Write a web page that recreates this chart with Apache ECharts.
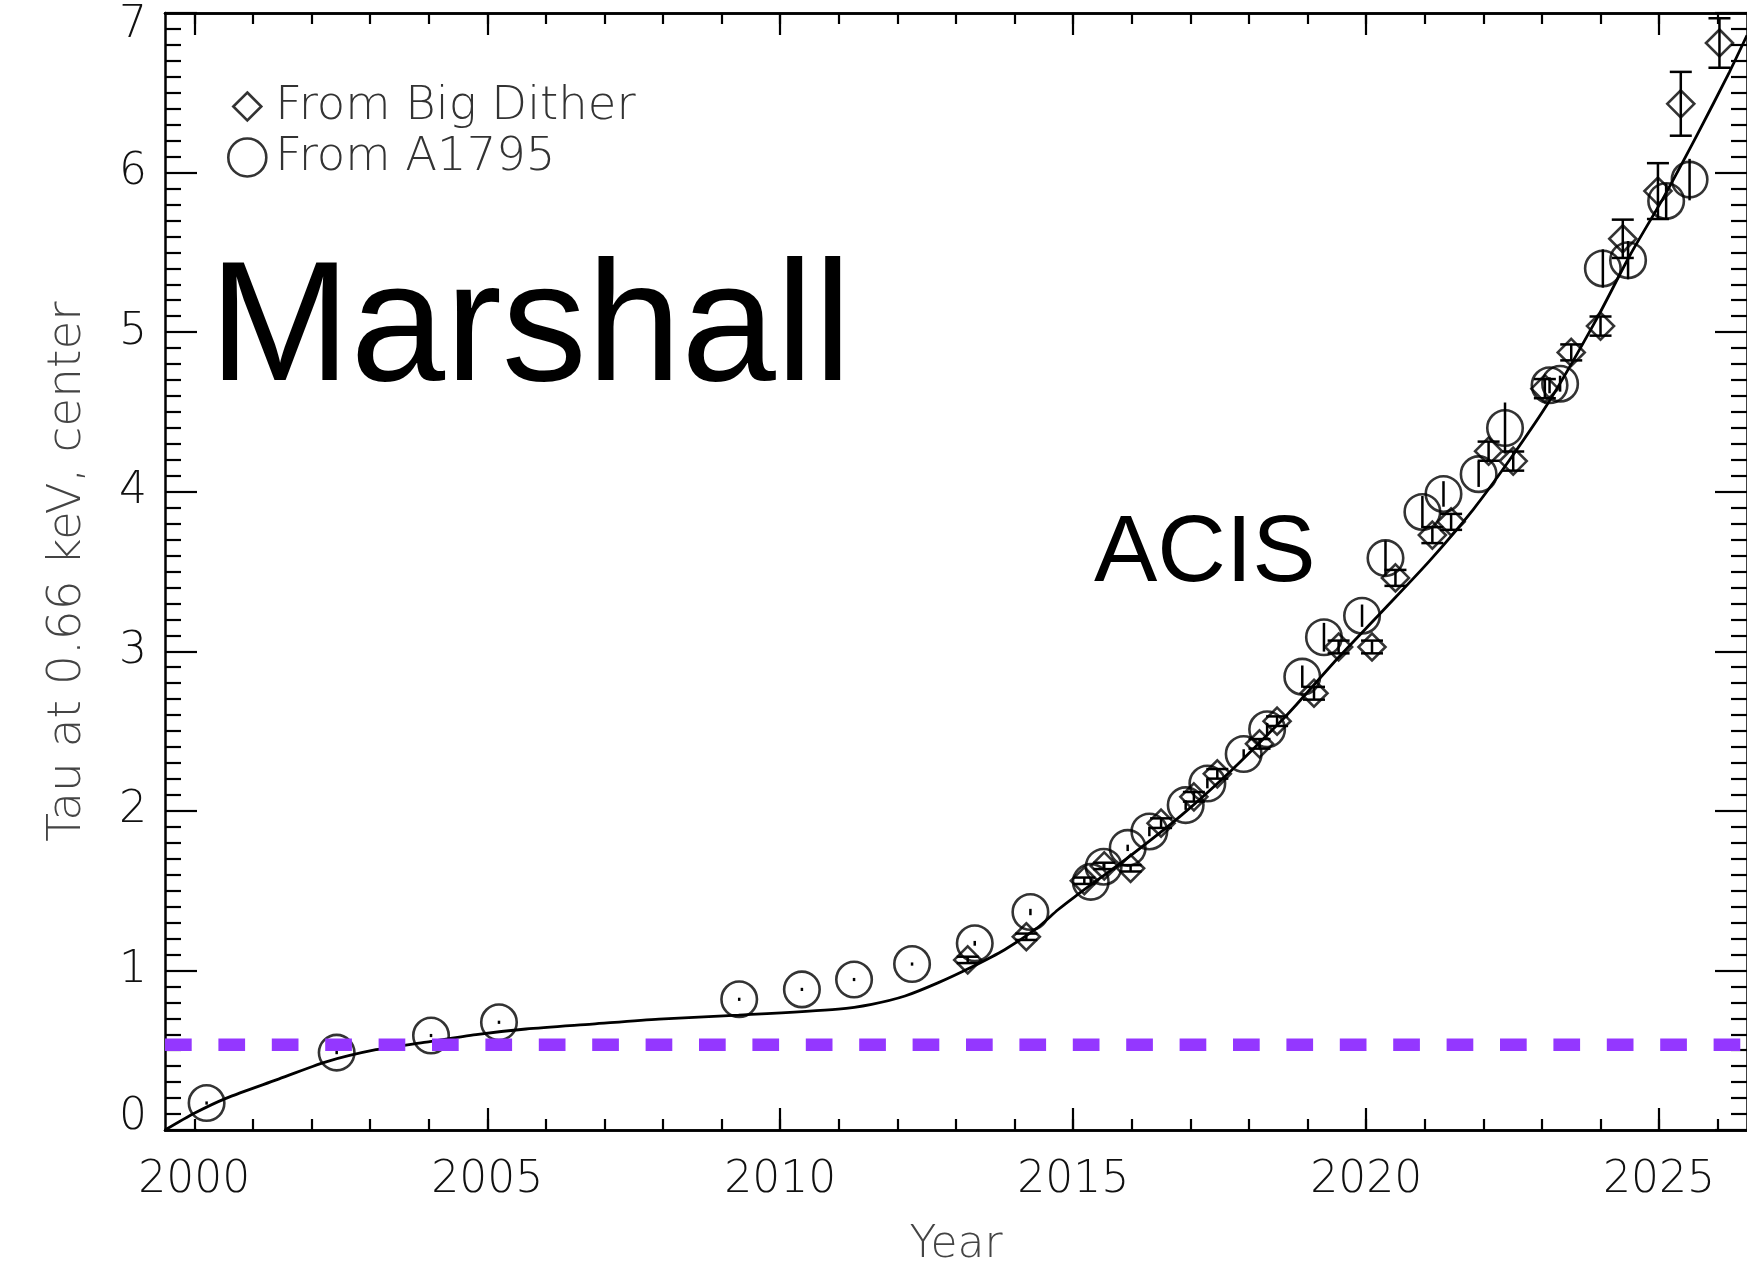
<!DOCTYPE html>
<html><head><meta charset="utf-8">
<script src="https://cdn.jsdelivr.net/npm/echarts@6/dist/echarts.min.js"></script>
<style>html,body{margin:0;padding:0;background:#fff}#c{width:1747px;height:1273px}</style>
</head><body><div id="c"></div>
<script>
// ---- tick labels / ticks ----
const xLabelYears = [2000, 2005, 2010, 2015, 2020, 2025];
const bottomMajorYears = [2005, 2010, 2015, 2020, 2025];
const topMajorYears = [2000, 2005, 2010, 2015, 2020, 2025];
const minorYears = [2000, 2001, 2002, 2003, 2004, 2005, 2006, 2007, 2008, 2009, 2010, 2011, 2012, 2013,
  2014, 2015, 2016, 2017, 2018, 2019, 2020, 2021, 2022, 2023, 2024, 2025, 2026];

// ---- fitted curve ----
const fitYear = [1999.5, 2000.0, 2000.55, 2001.4, 2002.25, 2003.1, 2003.96, 2004.81, 2005.66, 2006.79, 2007.93,
  2009.29, 2010.99, 2011.56, 2012.13, 2012.69, 2013.26, 2013.83, 2014.4, 2014.74, 2015.02, 2015.98, 2016.84,
  2017.69, 2018.54, 2018.82, 2019.5, 2020.3, 2021.09, 2021.83, 2022.45, 2023.13, 2023.93, 2024.5, 2025.07,
  2025.64, 2026.2, 2026.5];
const fitTau = [0.0, 0.105, 0.2, 0.314, 0.427, 0.503, 0.551, 0.598, 0.633, 0.664, 0.695,
  0.72, 0.758, 0.788, 0.84, 0.922, 1.02, 1.13, 1.27, 1.38, 1.46, 1.72, 1.97,
  2.25, 2.56, 2.67, 2.95, 3.26, 3.57, 3.89, 4.2, 4.57, 5.08, 5.48, 5.84,
  6.23, 6.63, 6.86];

// ---- From A1795 (circles) ----
const a1795Year = [2000.21, 2002.43, 2004.04, 2005.20, 2009.30, 2010.37, 2011.26, 2012.25, 2013.32, 2014.27,
  2015.30, 2015.52, 2015.93, 2016.30, 2016.92, 2017.29, 2017.91, 2018.31, 2018.91, 2019.28, 2019.93, 2020.33,
  2020.96, 2021.32, 2021.92, 2022.37, 2023.13, 2023.31, 2024.04, 2024.47, 2025.12, 2025.52];
const a1795Tau = [0.169, 0.485, 0.592, 0.675, 0.819, 0.881, 0.943, 1.04, 1.17, 1.366,
  1.555, 1.65, 1.768, 1.871, 2.036, 2.171, 2.356, 2.511, 2.841, 3.088, 3.223, 3.584,
  3.873, 3.986, 4.11, 4.399, 4.667, 4.677, 5.399, 5.451, 5.822, 5.956];
const a1795Err = [0.01, 0.01, 0.01, 0.01, 0.01, 0.01, 0.01, 0.01, 0.015, 0.02,
  0.02, 0.02, 0.02, 0.03, 0.03, 0.03, 0.03, 0.04, 0.07, 0.09, 0.07, 0.11,
  0.1, 0.08, 0.08, 0.16, 0.05, 0.05, 0.12, 0.12, 0.11, 0.13];

// ---- From Big Dither (diamonds) ----
const ditherYear = [2013.20, 2014.20, 2015.19, 2015.53, 2015.98, 2016.50, 2017.06, 2017.46, 2018.18, 2018.48,
  2019.11, 2019.53, 2020.10, 2020.50, 2021.13, 2021.45, 2022.09, 2022.51, 2023.05, 2023.50, 2024.00, 2024.38,
  2024.98, 2025.37, 2026.03];
const ditherTau = [1.066, 1.211, 1.562, 1.655, 1.64, 1.923, 2.088, 2.232, 2.42, 2.562,
  2.737, 3.027, 3.027, 3.46, 3.728, 3.811, 4.254, 4.192, 4.646, 4.873, 5.038, 5.585,
  5.884, 6.431, 6.812];
const ditherErr = [0.02, 0.02, 0.02, 0.02, 0.02, 0.03, 0.03, 0.03, 0.03, 0.03,
  0.04, 0.04, 0.04, 0.05, 0.05, 0.05, 0.06, 0.06, 0.06, 0.05, 0.06, 0.12,
  0.175, 0.2, 0.155];

const thresholdTau = 0.535;
const xRange = [1999.5, 2026.5];

const FONT = '"DejaVu Sans", sans-serif';
const W = 200;

const fitData = fitYear.map((y, i) => [y, fitTau[i]]);
const a1795Data = a1795Year.map((y, i) => [y, a1795Tau[i], a1795Err[i]]);
const ditherData = ditherYear.map((y, i) => [y, ditherTau[i], ditherErr[i]]);

function errRender(capHalf) {
  return function (params, api) {
    const x = api.value(0), y = api.value(1), e = api.value(2);
    const t = api.coord([x, y + e]), b = api.coord([x, y - e]);
    const st = { stroke: '#000', lineWidth: 2.5 };
    const ch = [{ type: 'line', shape: { x1: t[0], y1: t[1], x2: b[0], y2: b[1] }, style: st }];
    if (capHalf) {
      ch.push({ type: 'line', shape: { x1: t[0] - capHalf, y1: t[1], x2: t[0] + capHalf, y2: t[1] }, style: st });
      ch.push({ type: 'line', shape: { x1: b[0] - capHalf, y1: b[1], x2: b[0] + capHalf, y2: b[1] }, style: st });
    }
    return { type: 'group', children: ch };
  };
}

const lineSt = { color: '#000', width: 2.5 };
function xAx(pos, ticks, len, labels) {
  return {
    type: 'value', position: pos, min: xRange[0], max: xRange[1],
    axisLine: { show: true, lineStyle: lineSt },
    axisTick: { show: true, inside: true, length: len, customValues: ticks, lineStyle: { color: '#000', width: 2.2 } },
    axisLabel: labels ? { show: true, customValues: labels, formatter: v => String(Math.round(v)),
      fontFamily: FONT, fontWeight: W, fontSize: 44, color: '#111', margin: 29 } : { show: false },
    splitLine: { show: false }
  };
}

const chart = echarts.init(document.getElementById('c'), null, { renderer: 'canvas' });
const xMain = xAx('bottom', bottomMajorYears, 22, xLabelYears);
xMain.name = 'Year';
xMain.nameLocation = 'middle';
xMain.nameGap = 94;
xMain.nameTextStyle = { fontFamily: FONT, fontWeight: W, fontSize: 44, color: '#444' };

const legendText = { fontFamily: FONT, fontWeight: W, fontSize: 46.5, color: '#333' };

chart.setOption({
  animation: false,
  backgroundColor: '#fff',
  grid: { left: 165, top: 13, width: 1586, height: 1131, containLabel: false },
  xAxis: [
    xMain,
    xAx('bottom', minorYears, 11, null),
    xAx('top', topMajorYears, 22, null),
    xAx('top', minorYears, 11, null)
  ],
  yAxis: [
    {
      type: 'value', position: 'left', min: 0, max: 7, interval: 1,
      name: 'Tau at 0.66 keV, center', nameLocation: 'middle', nameRotate: 90, nameGap: 74,
      nameTextStyle: { fontFamily: FONT, fontWeight: W, fontSize: 47, color: '#444' },
      axisLine: { show: true, lineStyle: lineSt },
      axisTick: { show: true, inside: true, length: 32, lineStyle: { color: '#000', width: 2.2 } },
      minorTick: { show: true, splitNumber: 10, length: 16, lineStyle: { color: '#000', width: 2.2 } },
      axisLabel: { fontFamily: FONT, fontWeight: W, fontSize: 44, color: '#111', margin: 18, lineHeight: 25,
        verticalAlignMinLabel: 'bottom', verticalAlignMaxLabel: 'top' },
      splitLine: { show: false }, minorSplitLine: { show: false }
    },
    {
      type: 'value', position: 'right', min: 0, max: 7, interval: 1,
      axisLine: { show: true, lineStyle: lineSt },
      axisTick: { show: true, inside: true, length: 32, lineStyle: { color: '#000', width: 2.2 } },
      minorTick: { show: true, splitNumber: 10, length: 16, lineStyle: { color: '#000', width: 2.2 } },
      axisLabel: { show: false },
      splitLine: { show: false }, minorSplitLine: { show: false }
    }
  ],
  legend: [
    { data: ['From Big Dither'], left: 232, top: 83, padding: 0, orient: 'vertical', selectedMode: false,
      itemWidth: 28, itemHeight: 28, itemStyle: { borderWidth: 2.6, borderColor: '#000', color: 'rgba(0,0,0,0)' },
      textStyle: Object.assign({ padding: [0, 0, 0, 9] }, legendText) },
    { data: ['From A1795'], left: 227, top: 134, padding: 0, orient: 'vertical', selectedMode: false,
      itemWidth: 38, itemHeight: 38, itemStyle: { borderWidth: 2.6, borderColor: '#000', color: 'rgba(0,0,0,0)' },
      textStyle: Object.assign({ padding: [0, 0, 0, 4] }, legendText) }
  ],
  graphic: [
    { type: 'text', left: 209, top: 248, silent: true,
      style: { text: 'Marshall', font: '170px "Liberation Sans", Arial, sans-serif', fill: '#000' } },
    { type: 'text', left: 1094, top: 507, silent: true,
      style: { text: 'ACIS', font: '95px "Liberation Sans", Arial, sans-serif', fill: '#000' } }
  ],
  series: [
    { name: 'fit', type: 'line', data: fitData, showSymbol: false, smooth: 0.25, z: 2,
      lineStyle: { color: '#000', width: 2.8 } },
    { name: 'err1795', type: 'custom', data: a1795Data, renderItem: errRender(0), z: 3,
      encode: { x: 0, y: 1 } },
    { name: 'errDither', type: 'custom', data: ditherData, renderItem: errRender(11), z: 3,
      encode: { x: 0, y: 1 } },
    { name: 'From A1795', type: 'scatter', data: a1795Data.map(d => [d[0], d[1]]), symbol: 'circle', symbolSize: 35.5, z: 4,
      itemStyle: { color: 'rgba(0,0,0,0)', borderColor: '#000', borderWidth: 2.6 } },
    { name: 'From Big Dither', type: 'scatter', data: ditherData.map(d => [d[0], d[1]]), symbol: 'diamond', symbolSize: 27, z: 4,
      itemStyle: { color: 'rgba(0,0,0,0)', borderColor: '#000', borderWidth: 2.6 } },
    { name: 'threshold', type: 'line', data: [[xRange[0], thresholdTau], [xRange[1], thresholdTau]], showSymbol: false, z: 6,
      lineStyle: { color: '#9437FF', width: 12.5, type: [26.7, 26.7], cap: 'butt' } }
  ]
});
</script></body></html>
